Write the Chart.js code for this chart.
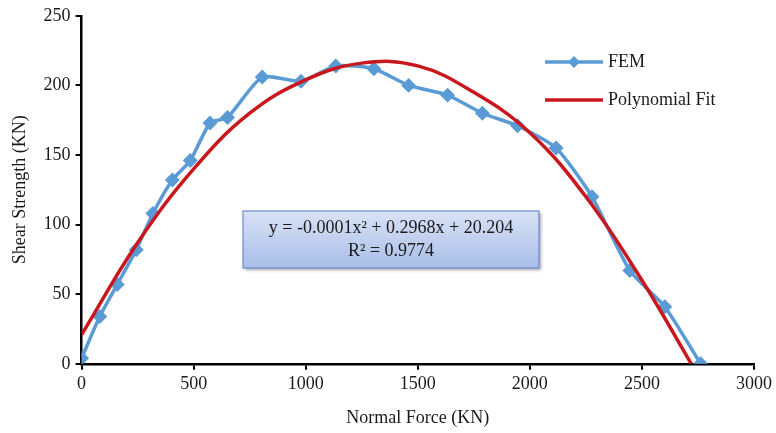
<!DOCTYPE html>
<html>
<head>
<meta charset="utf-8">
<script src="https://cdn.jsdelivr.net/npm/chart.js@4.4.0/dist/chart.umd.min.js"></script>
<style>
  html, body { margin: 0; padding: 0; background: #fff; }
  #wrap { width: 776px; height: 433px; }
</style>
</head>
<body>
<div id="wrap"><canvas id="chart" width="776" height="433"></canvas></div>
<script>
// FEM results
const femForce = [0, 81, 159, 244, 318, 405, 485, 573, 651, 806, 979, 1134, 1304, 1459, 1633, 1788, 1945, 2117, 2277, 2446, 2602, 2762];
const femShear = [4, 34, 57, 82, 108, 132, 146, 173, 177, 206, 203, 214, 212, 200, 193, 180, 171, 155, 120, 67, 41, 0];

// polynomial fit curve
const fitForce = [0, 250, 500, 750, 1000, 1250, 1500, 1750, 2000, 2250, 2500, 2720];
const fitShear = [21, 87, 140, 180, 204, 216, 214, 195, 166, 120, 60, 0];

const xTicks = [0, 500, 1000, 1500, 2000, 2500, 3000];
const yTicks = [0, 50, 100, 150, 200, 250];

const equation = "y = -0.0001x\u00b2 + 0.2968x + 20.204";
const rSquared = "R\u00b2 = 0.9774";

const serif = "'Liberation Serif', 'DejaVu Serif', serif";
const blue = "#5b9bd5";
const red = "#c8181e";

function toPoints(xs, ys) {
  return xs.map((x, i) => ({ x: x, y: ys[i] }));
}

// legend + equation box drawn on top
const extras = {
  id: "extras",
  afterDraw(chart) {
    const ctx = chart.ctx;
    ctx.save();
    // legend
    ctx.font = "18px " + serif;
    ctx.textBaseline = "middle";
    ctx.fillStyle = "#1a1a1a";
    let lx = 545, ly = 62;
    ctx.strokeStyle = blue;
    ctx.lineWidth = 3.5;
    ctx.beginPath(); ctx.moveTo(lx, ly); ctx.lineTo(lx + 58, ly); ctx.stroke();
    ctx.fillStyle = blue;
    ctx.beginPath();
    ctx.moveTo(lx + 29, ly - 6); ctx.lineTo(lx + 35, ly); ctx.lineTo(lx + 29, ly + 6); ctx.lineTo(lx + 23, ly);
    ctx.closePath(); ctx.fill();
    ctx.fillStyle = "#1a1a1a";
    ctx.fillText("FEM", lx + 63, ly);
    ly = 100;
    ctx.strokeStyle = red;
    ctx.beginPath(); ctx.moveTo(lx, ly); ctx.lineTo(lx + 58, ly); ctx.stroke();
    ctx.fillText("Polynomial Fit", lx + 63, ly);

    // equation box
    const bx = 243, by = 211, bw = 296, bh = 57;
    ctx.shadowColor = "rgba(0,0,0,0.35)";
    ctx.shadowOffsetX = 2; ctx.shadowOffsetY = 2; ctx.shadowBlur = 3;
    const g = ctx.createLinearGradient(0, by, 0, by + bh);
    g.addColorStop(0, "#d9e2f5");
    g.addColorStop(1, "#a9bee9");
    ctx.fillStyle = g;
    ctx.fillRect(bx, by, bw, bh);
    ctx.shadowColor = "transparent";
    ctx.strokeStyle = "#6a8bd0";
    ctx.lineWidth = 1.2;
    ctx.strokeRect(bx, by, bw, bh);
    ctx.fillStyle = "#1a1a1a";
    ctx.font = "18px " + serif;
    ctx.textAlign = "center";
    ctx.fillText(equation, bx + bw / 2, by + 17);
    ctx.fillText(rSquared, bx + bw / 2, by + 40);
    ctx.restore();
  }
};

new Chart(document.getElementById("chart"), {
  type: "scatter",
  data: {
    datasets: [
      {
        label: "FEM",
        data: toPoints(femForce, femShear),
        showLine: true,
        borderColor: blue,
        backgroundColor: blue,
        borderWidth: 3.5,
        pointStyle: "rectRot",
        pointRadius: 5,
        tension: 0.2,
        order: 2
      },
      {
        label: "Polynomial Fit",
        data: toPoints(fitForce, fitShear),
        showLine: true,
        borderColor: red,
        borderWidth: 3.5,
        pointRadius: 0,
        tension: 0.4,
        order: 1
      }
    ]
  },
  options: {
    responsive: false,
    animation: false,
    layout: { padding: { top: 12, right: 11, left: 5, bottom: 0 } },
    plugins: { legend: { display: false }, tooltip: { enabled: false } },
    scales: {
      x: {
        type: "linear",
        min: 0, max: 3000,
        afterBuildTicks: (s) => { s.ticks = xTicks.map((v) => ({ value: v })); },
        grid: { drawOnChartArea: false, tickLength: 6, color: "#000", lineWidth: 2 },
        border: { color: "#000", width: 2.5 },
        ticks: { color: "#1a1a1a", font: { family: serif, size: 18 }, padding: 4, maxRotation: 0, callback: (v) => String(v) },
        title: { display: true, text: "Normal Force (KN)", color: "#1a1a1a", font: { family: serif, size: 18 }, padding: { top: 8 } }
      },
      y: {
        min: 0, max: 250,
        afterBuildTicks: (s) => { s.ticks = yTicks.map((v) => ({ value: v })); },
        grid: { drawOnChartArea: false, tickLength: 6, color: "#000", lineWidth: 2 },
        border: { color: "#000", width: 2.5 },
        ticks: { color: "#1a1a1a", font: { family: serif, size: 18 }, padding: 5, callback: (v) => String(v) },
        title: { display: true, text: "Shear Strength (KN)", color: "#1a1a1a", font: { family: serif, size: 18 }, padding: { bottom: 8 } }
      }
    }
  },
  plugins: [extras]
});
</script>
</body>
</html>
